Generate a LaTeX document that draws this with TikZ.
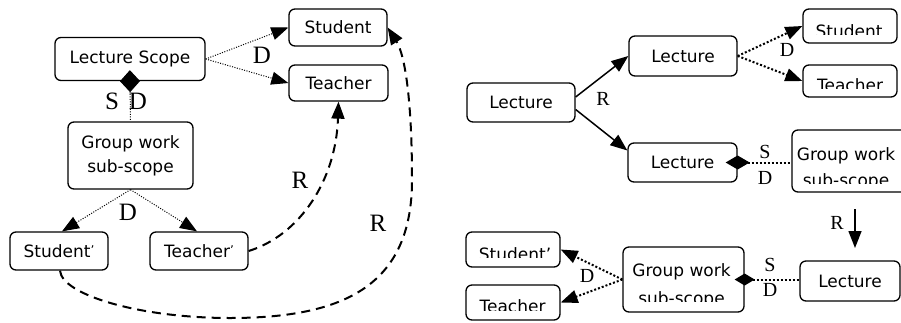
\documentclass[tikz,border=0pt]{standalone}
\usepackage{fontspec}
\setmainfont{DejaVu Sans}
\newfontfamily\lblfont{Liberation Serif}
\usetikzlibrary{arrows.meta,calc}
\newcommand\prm{{\fontsize{12}{12}\selectfont\raisebox{3pt}{’}}}
\tikzset{
  box/.style={draw, line width=1.3pt, rounded corners=6pt, inner sep=0pt,
    font=\fontsize{17}{20}\selectfont, align=center},
  lblL/.style={font=\lblfont\fontsize{25}{25}\selectfont, inner sep=0pt},
  lblR/.style={font=\lblfont\fontsize{20}{20}\selectfont, inner sep=0pt},
  tip/.style={-{Triangle[length=17pt,width=13pt]}},
  thindot/.style={line width=1pt, dash pattern=on 1pt off 1.5pt},
  thickdot/.style={line width=2pt, dash pattern=on 2pt off 2pt},
  dashedR/.style={line width=2pt, dash pattern=on 9pt off 6pt},
  solidR/.style={line width=1.5pt},
  txt/.style={font=\fontsize{17}{20}\selectfont, inner sep=0pt, anchor=base},
}
\begin{document}
\begin{tikzpicture}[x=1pt,y=-1pt]
\useasboundingbox (0,0) rectangle (901,322);
\clip (0,0) rectangle (901,322);

% ---------------- left diagram ----------------
\node[box, minimum width=150pt, minimum height=43pt] (ls) at (130,59) {Lecture Scope};
\node[box, minimum width=98pt, minimum height=37pt] (st) at (338,27.5) {Student};
\node[box, minimum width=99pt, minimum height=36pt] (te) at (338.5,83) {Teacher};
\node[box, minimum width=125pt, minimum height=67pt] (gw) at (130.5,155.5) {Group work\\[4pt]sub-scope};
\node[box, minimum width=98pt, minimum height=38pt] (sp) at (59,251) {Student\prm};
\node[box, minimum width=98pt, minimum height=38pt] (tp) at (199,251) {Teacher\prm};

\draw[thindot, tip] (ls.east) -- (st.west);
\draw[thindot, tip] (ls.east) -- (te.west);
\node[lblL] (dl1) at (262,55) {D};

\draw[thindot, {Diamond[length=22pt,width=20pt]}-, shorten <=-11pt] (ls.south) -- (gw.north);
\node[lblL] (sl1) at (112,101) {S};
\node[lblL] (dl2) at (138,101) {D};

\draw[thindot, tip] (gw.south) -- ($(sp.north)+(3,0)$);
\draw[thindot, tip] (gw.south) -- ($(tp.north)+(-2,0)$);
\node[lblL] (dl3) at (128,212) {D};

\draw[dashedR, tip] (tp.east) .. controls (300,235) and (336,180) .. (te.south);
\node[lblL] (rl1) at (300,180) {R};

\draw[dashedR, tip] ($(sp.south)+(1,0)$) .. controls (62,295) and (140,318) .. (230,318)
   .. controls (345,318) and (412,285) .. (412,180)
   .. controls (412,100) and (405,55) .. (st.east);
\node[lblL] (rl2) at (378,223) {R};

% ---------------- right diagram ----------------
\node[box, minimum width=108pt, minimum height=39pt] (l0) at (521,102.5) {Lecture};
\node[box, minimum width=108pt, minimum height=40pt] (l1) at (683,56) {Lecture};
\node[box, minimum width=109pt, minimum height=39pt] (l2) at (682.5,162.5) {Lecture};
\node[box, minimum width=100pt, minimum height=40pt] (l3) at (850,281) {Lecture};

\node[box, minimum width=94pt, minimum height=34pt] (rs) at (850,26) {};
\node[box, minimum width=94pt, minimum height=32pt] (rt) at (850,81) {};
\node[box, minimum width=118pt, minimum height=62pt] (gw1) at (851,161) {};
\node[box, minimum width=121pt, minimum height=65pt] (gw2) at (683.5,279.5) {};
\node[box, minimum width=94pt, minimum height=35pt] (sp2) at (513,249.5) {};
\node[box, minimum width=94pt, minimum height=35pt] (te2) at (513,302.5) {};

\begin{scope}
  \clip (800,5) rectangle (900,34.5);
  \node[txt] (rst) at (849,37) {Student};
\end{scope}
\begin{scope}
  \clip (800,60) rectangle (900,88.5);
  \node[txt] (rtt) at (850,91) {Teacher};
\end{scope}
\begin{scope}
  \clip (790,130) rectangle (901,183);
  \node[txt] (gw1a) at (846,160) {Group work};
  \node[txt] (gw1b) at (846,186) {sub-scope};
\end{scope}
\begin{scope}
  \clip (620,245) rectangle (746,301.5);
  \node[txt] (gw2a) at (681.5,276) {Group work};
  \node[txt] (gw2b) at (681.5,304) {sub-scope};
\end{scope}
\begin{scope}
  \clip (463,230) rectangle (563,257.5);
  \node[txt] (sp2t) at (515,260) {Student’};
\end{scope}
\begin{scope}
  \clip (463,283) rectangle (563,310);
  \node[txt] (te2t) at (512.5,312) {Teacher};
\end{scope}

\draw[solidR, tip] ($(l0.east)+(0,-5.5)$) -- (l1.west);
\draw[solidR, tip] ($(l0.east)+(0,7)$) -- ($(l2.west)+(0,-12)$);
\node[lblR] (rr1) at (603,99) {R};

\draw[thickdot, tip] (l1.east) -- (rs.west);
\draw[thickdot, tip] (l1.east) -- (rt.west);
\node[lblR] (dr1) at (787,50) {D};

\draw[thickdot, {Diamond[length=24pt,width=14pt]}-, shorten <=-12pt] (l2.east) -- (l2.east -| gw1.west);
\node[lblR] (sr1) at (765,152) {S};
\node[lblR] (dr2) at (765,178) {D};

\coordinate (ra) at (855,209);
\coordinate (rb) at (855,248);
\draw[solidR, tip] (ra) -- (rb);
\node[lblR] (rr2) at (837,223) {R};

\draw[thickdot, {Diamond[length=20pt,width=12pt]}-, shorten <=-10pt] (gw2.east) -- (gw2.east -| l3.west);
\node[lblR] (sr2) at (770,265) {S};
\node[lblR] (dr3) at (770,290) {D};

\draw[thickdot, tip] (gw2.west) -- (sp2.east);
\draw[thickdot, tip] (gw2.west) -- (te2.east);
\node[lblR] (dr4) at (587,276) {D};
\end{tikzpicture}
\end{document}
